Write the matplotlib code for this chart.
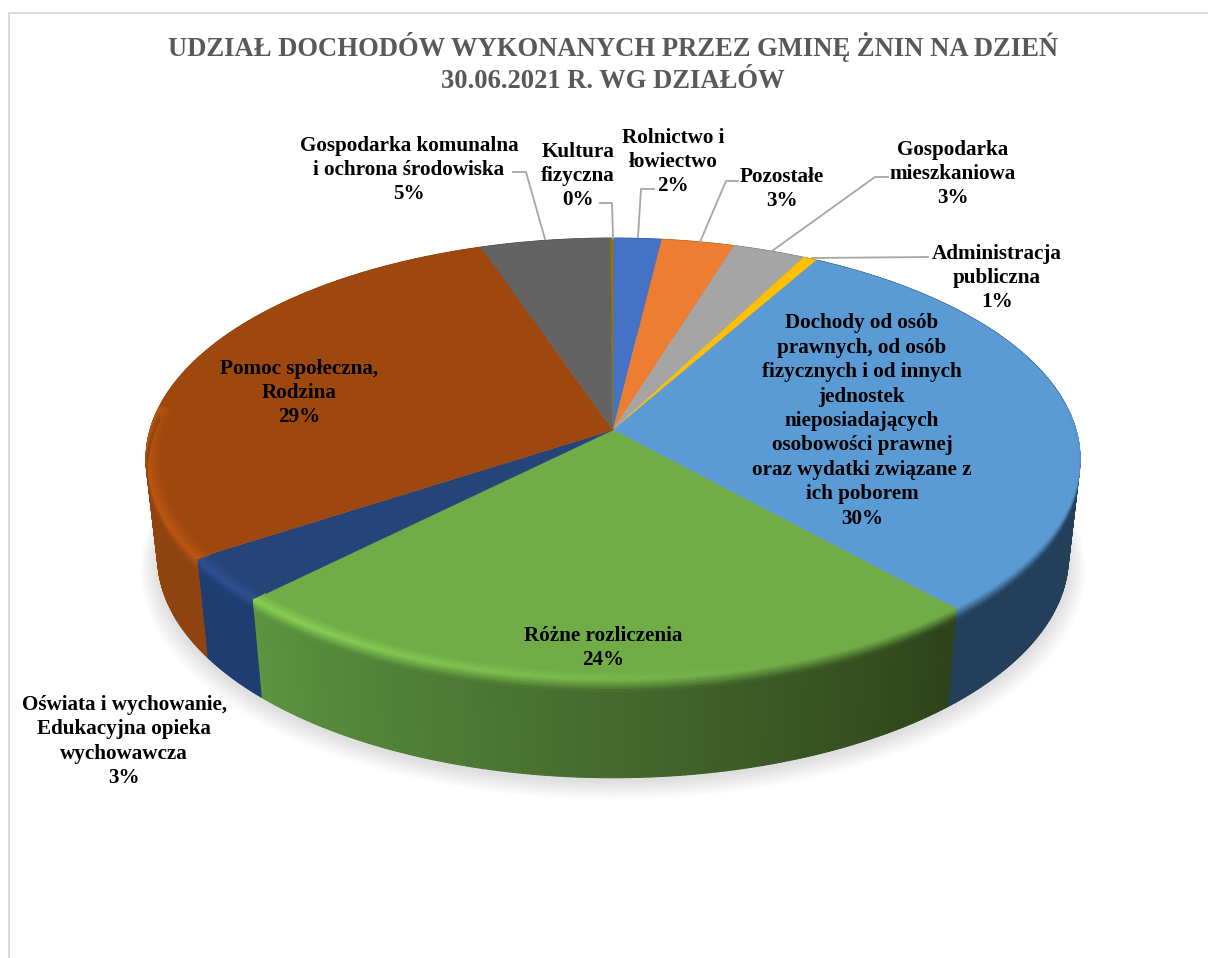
import matplotlib
matplotlib.use("Agg")
import matplotlib.pyplot as plt
import numpy as np
from matplotlib.collections import PolyCollection
from matplotlib.colors import to_rgb

# dane (clockwise from 12 o'clock)
names = ["Rolnictwo i\nłowiectwo", "Pozostałe", "Gospodarka\nmieszkaniowa",
         "Administracja\npubliczna",
         "Dochody od osób\nprawnych, od osób\nfizycznych i od innych\njednostek\nnieposiadających\nosobowości prawnej\noraz wydatki związane z\nich poborem",
         "Różne rozliczenia", "Oświata i wychowanie,\nEdukacyjna opieka\nwychowawcza",
         "Pomoc społeczna,\nRodzina", "Gospodarka komunalna\ni ochrona środowiska",
         "Kultura\nfizyczna"]
values = [1.9, 2.85, 2.85, 0.55, 30.2, 24.1, 3.3, 29.05, 5.1, 0.1]
top_colors = ["#4472c4", "#ed7d31", "#a5a5a5", "#ffc000", "#5b9bd5",
              "#70ad47", "#264478", "#9e480e", "#636363", "#997300"]
side_left = ["#2a4a80", "#8f4f20", "#6a6a6a", "#a07800", "#243f5a",
             "#2d431a", "#1f3d70", "#8f4410", "#444444", "#665000"]
side_right = ["#2a4a80", "#8f4f20", "#6a6a6a", "#a07800", "#243f5a",
              "#5c9440", "#1f3d70", "#8f4410", "#444444", "#665000"]
title = "UDZIAŁ DOCHODÓW WYKONANYCH PRZEZ GMINĘ ŻNIN NA DZIEŃ\n30.06.2021 R. WG DZIAŁÓW"

# polozenie etykiet w pikselach: x, y
label_pos = [(673, 162), (782, 189), (953, 174), (997, 278), (862, 421),
             (603, 648), (124, 741.5), (299, 393), (409, 170), (578, 176)]
leaders = {0: [(654, 189), (641, 189), (638, 237)],
           1: [(738, 181), (726, 181), (700, 242)],
           2: [(888, 177), (875, 177), (772, 251)],
           3: [(928, 257), (812, 258)],
           8: [(513, 172), (526, 172), (545, 239)],
           9: [(600, 203), (612, 203), (613, 238)]}

CX, CY = 613, 430
RX, RY, P = 463, 217, -0.131
DEPTH = 98
SHRINK = 0.975


def project(angle, r=1.0, z=0.0):
    a = np.radians(angle)
    u = r * np.sin(a)
    v = -r * np.cos(a)
    w = 1 + P * v
    x = RX * u / w
    y = RY * v / w
    return CX + x * (1 - (1 - SHRINK) * z), CY + y + DEPTH * z


def mix(c1, c2, t):
    return tuple(np.array(c1) * (1 - t) + np.array(c2) * t)


def slice_at(angle, edges):
    return min(np.searchsorted(edges, angle % 360, side="right") - 1, len(values) - 1)


edges = np.concatenate([[0], np.cumsum(values)]) / np.sum(values) * 360

fig = plt.figure(figsize=(12.08, 9.58), dpi=100)
ax = fig.add_axes([0, 0, 1, 1])
ax.set_xlim(0, 1208)
ax.set_ylim(958, 0)
ax.axis("off")

# ramka
ax.plot([9, 9, 1208], [958, 12.5, 12.5], color="#d9d9d9", lw=1.4)

# cien pod kolem
ang = np.linspace(0, 360, 361)
for k in range(16):
    grow = 1 + 0.0024 * (16 - k)
    sx, sy = project(ang, 1.0, 1.0)
    ax.fill(CX + (sx - CX) * grow, 448 + (sy - 448) * grow + 3 + 0.4 * (16 - k),
            color="black", alpha=0.009, lw=0, zorder=1)

# bok kola
polys, cols = [], []
step = 0.5
for a in np.arange(0, 360, step):
    i = slice_at(a + step / 2, edges)
    t = (a - edges[i]) / max(edges[i + 1] - edges[i], 1e-6)
    col = mix(to_rgb(side_left[i]), to_rgb(side_right[i]), t)
    x0, y0 = project(a)
    x1, y1 = project(a + step)
    x2, y2 = project(a + step, 1, 1)
    x3, y3 = project(a, 1, 1)
    polys.append([(x0, y0), (x1, y1), (x2, y2), (x3, y3)])
    cols.append(col)
ax.add_collection(PolyCollection(polys, facecolors=cols, edgecolors=cols, linewidths=0.8, zorder=2))

# gora kola
for i, val in enumerate(values):
    a = np.linspace(edges[i], edges[i + 1], max(int(val * 6), 4))
    x, y = project(a)
    ax.fill(np.r_[CX, x], np.r_[CY, y], color=top_colors[i], lw=0.3, zorder=3)

# fazowana krawedz
polys, cols = [], []
layers = np.linspace(0, 1, 13)
for a in np.arange(84, 276, step):
    i = slice_at(a + step / 2, edges)
    t = (a - edges[i]) / max(edges[i + 1] - edges[i], 1e-6)
    side = mix(to_rgb(side_left[i]), to_rgb(side_right[i]), t)
    top = np.array(to_rgb(top_colors[i]))
    h = np.clip((a - 160) / 55, 0, 1) * 0.2
    bright = tuple(np.clip(top * (1 + h), 0, 1))
    for s0, s1 in zip(layers[:-1], layers[1:]):
        pts = []
        for aa, s in [(a, s0), (a + step, s0), (a + step, s1), (a, s1)]:
            r = 1 - 0.03 * max(1 - 2 * s, 0)
            z = 0.12 * max(2 * s - 1, 0)
            pts.append(project(aa, r, z))
        sm = (s0 + s1) / 2
        if sm < 0.5:
            c = mix(top, bright, sm / 0.5)
        else:
            c = mix(bright, side, (sm - 0.5) / 0.5)
        polys.append(pts)
        cols.append(c)
ax.add_collection(PolyCollection(polys, facecolors=cols, edgecolors=cols, linewidths=0.6, zorder=4))

# linie odniesienia
for i, pts in leaders.items():
    xs, ys = zip(*pts)
    ax.plot(xs, ys, color="#a6a6a6", lw=1.3, zorder=5)

font = "Liberation Serif"
ax.text(613, 63, title, ha="center", va="center", family=font, weight="bold",
        fontsize=19.2, color="#595959", linespacing=1.375, zorder=6)
for name, v, (x, y) in zip(names, values, label_pos):
    ax.text(x, y, f"{name}\n{round(v)}%", ha="center", va="center", family=font,
            weight="bold", fontsize=15.2, color="black", linespacing=1.295, zorder=6)

fig.savefig("out.png", dpi=100)
